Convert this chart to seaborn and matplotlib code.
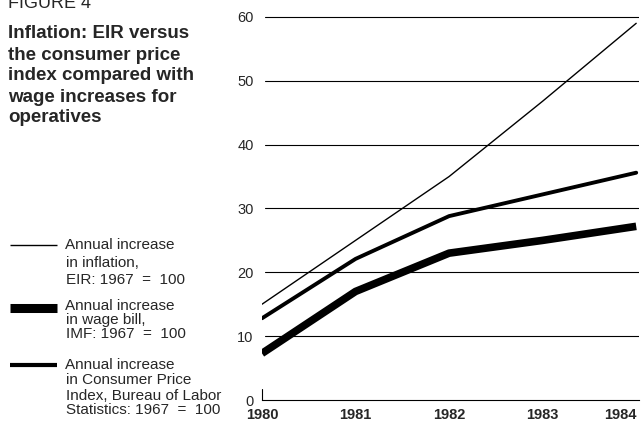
#Inflation chart: EIR vs CPI vs wage bill
# -*- coding: utf-8 -*-

import matplotlib
matplotlib.use("Agg")
import matplotlib.pyplot as plt
from matplotlib.lines import Line2D
import seaborn as sns
import pandas as pd

#### Data
years = [1980, 1981, 1982, 1983, 1984]
eir_inflation = [15, 25, 35, 46.8, 59]
wage_bill = [7.3, 17, 23, 25, 27.2]
cpi = [12.8, 22.1, 28.8, 32.2, 35.6]
y_ticks = [0, 10, 20, 30, 40, 50, 60]

title_lines = ["Inflation: EIR versus", "the consumer price",
               "index compared with", "wage increases for", "operatives"]
legend_text = [["Annual increase", "in inflation,", "EIR: 1967  =  100"],
               ["Annual increase", "in wage bill,", "IMF: 1967  =  100"],
               ["Annual increase", "in Consumer Price", "Index, Bureau of Labor",
                "Statistics: 1967  =  100"]]

sns.set_style("white")
plt.rcParams['font.family'] = ['Liberation Sans', 'DejaVu Sans']

fig = plt.figure(figsize=(6.41, 4.24), dpi=100)
ax = fig.add_axes([262 / 641, 24 / 424, 377 / 641, 385 / 424])

df = pd.DataFrame({"year": years, "eir": eir_inflation,
                   "wage": wage_bill, "cpi": cpi})

#gridlines first so the series sit on top
for t in y_ticks[1:]:
    ax.axhline(t, xmin=0.008, color="black", lw=0.8, zorder=1)

sns.lineplot(data=df, x="year", y="eir", color="black", lw=1.0, ax=ax, zorder=3)
sns.lineplot(data=df, x="year", y="cpi", color="black", lw=2.8, ax=ax, zorder=3)
sns.lineplot(data=df, x="year", y="wage", color="black", lw=5.5, ax=ax, zorder=3,
             solid_capstyle="butt")

ax.set_xlim(1980, 1984.03)
ax.set_ylim(0, 60.3)
ax.set_xticks(years)
ax.set_xticklabels([str(y) for y in years], fontsize=10.5, fontweight="bold")
#last year label is pushed in from the page edge, as in the print
ax.get_xticklabels()[-1].set_horizontalalignment("right")
ax.set_yticks(y_ticks)
ax.set_yticklabels([str(t) for t in y_ticks], fontsize=10.5)
ax.set_xlabel("")
ax.set_ylabel("")
for s in ["top", "right", "left"]:
    ax.spines[s].set_visible(False)
ax.spines["bottom"].set_color("black")
ax.spines["bottom"].set_linewidth(0.8)
ax.tick_params(axis="x", direction="in", length=7, width=0.8, color="#999999", pad=6)
ax.tick_params(axis="y", length=0, pad=6)
ax.plot([1980, 1980], [0, 1.8], color="black", lw=0.8, clip_on=False)

#### Left-hand text block
fig.text(8 / 641, 1 - 3 / 424, "FIGURE 4", fontsize=13, va="center", ha="left")
for i, line in enumerate(title_lines):
    fig.text(8 / 641, 1 - (34 + i * 21) / 424, line, fontsize=13.5,
             fontweight="bold", va="center", ha="left")

#### Hand-made legend
samples = [(245, 1.0), (308, 6.5), (365, 3.0)]
text_y = [[245, 263, 280], [306, 320, 334], [365, 380, 396, 410]]
for (sy, lw), lines, ys in zip(samples, legend_text, text_y):
    fig.add_artist(Line2D([10 / 641, 57 / 641], [1 - sy / 424, 1 - sy / 424],
                          color="black", lw=lw, solid_capstyle="butt"))
    for j, (txt, ty) in enumerate(zip(lines, ys)):
        fig.text((65 if j == 0 else 66) / 641, 1 - ty / 424, txt, fontsize=11,
                 va="center", ha="left")

fig.savefig("out.png", dpi=100)
